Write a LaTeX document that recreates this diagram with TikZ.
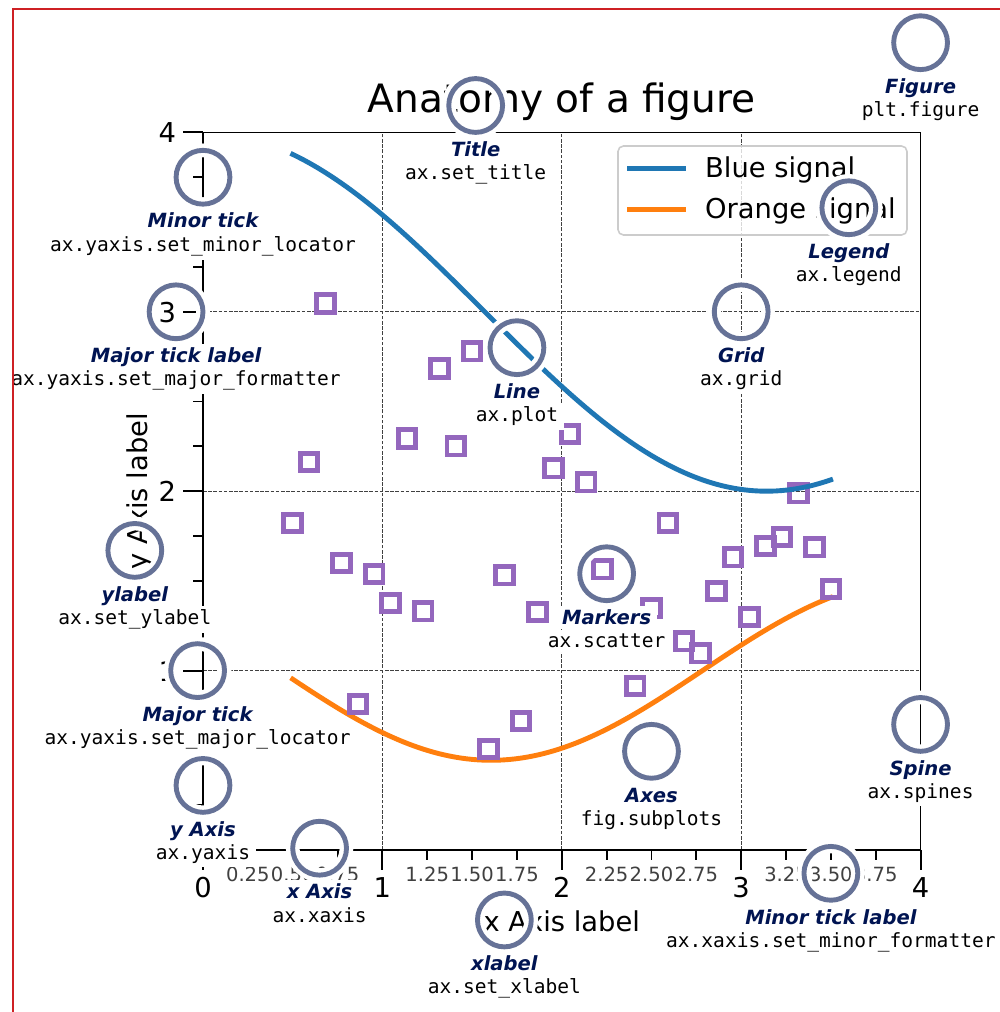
\documentclass[tikz,border=0pt]{standalone}
\usepackage{fontspec}
\setmainfont{DejaVu Sans}
\newfontfamily\codefont{DejaVu Sans Mono}
\usetikzlibrary{calc}
\definecolor{cblue}{HTML}{1F77B4}
\definecolor{corange}{HTML}{FF7F0E}
\definecolor{cpurple}{HTML}{9467BD}
\definecolor{royal}{rgb}{0,0.078125,0.3203125}
\definecolor{ringc}{rgb}{0.4,0.447,0.592}
\definecolor{gridc}{gray}{0.25}
\definecolor{minorc}{gray}{0.25}
\definecolor{redframec}{RGB}{206,32,36}
\definecolor{legedge}{gray}{0.8}

\newcommand\anncircle[3]{%
  \coordinate (#1) at (#2,#3);
  \draw[ringhalo] (#1) circle[radius=0.15];
  \draw[ringline] (#1) circle[radius=0.15];
}
\newcommand\anntext[3]{%
  \node[anntitle] (#1-t) at ($(#1)+(0,-0.2825)$) {#2};
  \node[anncode] (#1-c) at ($(#1)+(0,-0.4125)$) {#3};
}

\begin{document}
\begin{tikzpicture}[x=1.794cm,y=1.794cm,
  redframe/.style={draw=redframec,line width=0.57pt},
  gridline/.style={draw=gridc,line width=0.28pt,dash pattern=on 1.03pt off 0.45pt},
  spinel/.style={draw=black,line width=0.445pt},
  tickl/.style={draw=black,line width=0.556pt},
  majlab/.style={inner sep=0pt,font=\fontsize{7.78pt}{9pt}\selectfont},
  minlab/.style={inner sep=0pt,text=minorc,font=\fontsize{5.56pt}{6.5pt}\selectfont},
  mk/.style={draw=cpurple,line width=1.39pt,rectangle,minimum size=5pt,inner sep=0pt,outer sep=0pt},
  curve/.style={line width=1.39pt,line cap=rect,line join=round},
  ringhalo/.style={draw=white,line width=3.89pt},
  ringline/.style={draw=ringc,line width=1.39pt},
  halo/.style={fill=white,inner xsep=1.6pt,inner ysep=1.1pt},
  anntitle/.style={halo,anchor=base,text=royal,font=\fontsize{5.56pt}{6.5pt}\selectfont\bfseries\itshape},
  anncode/.style={halo,anchor=base,text=black,font=\codefont\fontsize{5.56pt}{6.5pt}\selectfont},
  legtext/.style={anchor=base west,inner sep=0pt,font=\fontsize{7.78pt}{9pt}\selectfont}
]
\useasboundingbox (-1.1315,-0.9030) rectangle (4.4426,4.7380);
\clip (-1.1315,-0.9030) rectangle (4.4426,4.7380);
\fill[white] (-1.1315,-0.9030) rectangle (4.4426,4.7380);

% grid
\foreach \v in {1,2,3}{
  \draw[gridline] (\v,0) -- (\v,4);
  \draw[gridline] (0,\v) -- (4,\v);
}

% orange signal
\draw[curve,draw=corange] plot[domain=0.5:3.5,samples=100] (\x,{1+cos((1+\x/0.75) r)/2});

% markers
\foreach \k/\yv in {0/1.822,1/2.162,2/3.047,3/1.599,4/0.813,5/1.538,6/1.376,7/2.295,8/1.331,9/2.685,10/2.251,11/2.780,12/0.563,13/1.532,14/0.719,15/1.326,16/2.128,17/2.318,18/2.050,19/1.565,21/0.914,22/1.348,23/1.822,24/1.164,25/1.097,26/1.443,27/1.632,28/1.298,29/1.694,30/1.744,31/1.989,32/1.688,33/1.454}{
  \node[mk] (m\k) at ({0.5+\k/11},\yv) {};
}

% spines and ticks
\draw[spinel] (0,0) rectangle (4,4);
\foreach \v in {0,1,2,3,4}{
  \draw[tickl] (\v,0) -- (\v,-0.1087);
  \draw[tickl] (0,\v) -- (-0.1087,\v);
  \node[majlab,anchor=base] (xl\v) at (\v,-0.2625) {\v};
}
\foreach \v in {1,2,3,4}{
  \node[majlab,anchor=base east] (yl\v) at (-0.1466,\v-0.058) {\v};
}
\foreach \v/\t in {0.25/0.25,0.5/0.50,0.75/0.75,1.25/1.25,1.5/1.50,1.75/1.75,2.25/2.25,2.5/2.50,2.75/2.75,3.25/3.25,3.5/3.50,3.75/3.75}{
  \draw[tickl] (\v,0) -- (\v,-0.0544);
  \draw[tickl] (0,\v) -- (-0.0544,\v);
  \node[minlab,anchor=base] at (\v,-0.175) {\t};
}

% title and axis labels
\node[anchor=base,inner sep=0pt,font=\fontsize{11.11pt}{13pt}\selectfont] (title) at (2,4.110) {Anatomy of a figure};
\node[anchor=base,inner sep=0pt,font=\fontsize{7.78pt}{9pt}\selectfont] (xlab) at (2,-0.4537) {x Axis label};
\node[anchor=base,inner sep=0pt,rotate=90,font=\fontsize{7.78pt}{9pt}\selectfont] (ylab) at (-0.312,2) {y Axis label};

% legend
\draw[draw=legedge,line width=0.445pt,fill=white,fill opacity=0.8,rounded corners=1.56pt] (2.3133,3.4281) rectangle (3.9242,3.9242);
\draw[curve,draw=cblue] (2.3773,3.7999) -- (2.6784,3.7999);
\draw[curve,draw=corange] (2.3773,3.5714) -- (2.6784,3.5714);
\node[legtext] (leg1) at (2.7954,3.7486) {Blue signal};
\node[legtext] (leg2) at (2.7954,3.5201) {Orange signal};

% blue signal
\draw[curve,draw=cblue] plot[domain=0.5:3.5,samples=100] (\x,{3+cos(\x r)});

% annotation circles
\anncircle{a1}{3.5}{-0.13}
\anncircle{a2}{-0.03}{1.0}
\anncircle{a3}{0.00}{3.75}
\anncircle{a4}{-0.15}{3.00}
\anncircle{a5}{1.68}{-0.39}
\anncircle{a6}{-0.38}{1.67}
\anncircle{a7}{1.52}{4.15}
\anncircle{a8}{1.75}{2.80}
\anncircle{a9}{2.25}{1.54}
\anncircle{a10}{3.00}{3.00}
\anncircle{a11}{3.60}{3.58}
\anncircle{a12}{2.5}{0.55}
\anncircle{a13}{4}{4.5}
\anncircle{a14}{0.65}{0.01}
\anncircle{a15}{0}{0.36}
\anncircle{a16}{4.0}{0.7}

% annotation texts
\anntext{a1}{Minor tick label}{ax.xaxis.set\_minor\_formatter}
\anntext{a2}{Major tick}{ax.yaxis.set\_major\_locator}
\anntext{a3}{Minor tick}{ax.yaxis.set\_minor\_locator}
\anntext{a4}{Major tick label}{ax.yaxis.set\_major\_formatter}
\anntext{a5}{xlabel}{ax.set\_xlabel}
\anntext{a6}{ylabel}{ax.set\_ylabel}
\anntext{a7}{Title}{ax.set\_title}
\anntext{a8}{Line}{ax.plot}
\anntext{a9}{Markers}{ax.scatter}
\anntext{a10}{Grid}{ax.grid}
\anntext{a11}{Legend}{ax.legend}
\anntext{a12}{Axes}{fig.subplots}
\anntext{a13}{Figure}{plt.figure}
\anntext{a14}{x Axis}{ax.xaxis}
\anntext{a15}{y Axis}{ax.yaxis}
\anntext{a16}{Spine}{ax.spines}

% frame
\draw[redframe] (-1.0574,-1.5) rectangle (5,4.6862);
\end{tikzpicture}
\end{document}
